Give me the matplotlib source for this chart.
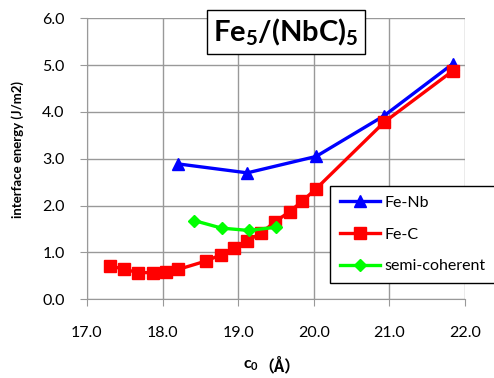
import matplotlib
matplotlib.use('Agg')
import matplotlib.pyplot as plt

plt.rcParams['font.family'] = ['Lato', 'Noto Sans CJK JP', 'DejaVu Sans']
plt.rcParams['mathtext.default'] = 'regular'

# data
feNbX = [18.21, 19.12, 20.03, 20.93, 21.84]
feNbY = [2.89, 2.70, 3.05, 3.92, 5.03]

feCX = [17.30, 17.49, 17.68, 17.87, 18.05, 18.21, 18.58, 18.77, 18.94,
        19.12, 19.30, 19.49, 19.68, 19.85, 20.03, 20.93, 21.84]
feCY = [0.72, 0.64, 0.57, 0.57, 0.59, 0.64, 0.82, 0.95, 1.09,
        1.25, 1.41, 1.66, 1.87, 2.10, 2.36, 3.78, 4.88]

semiX = [18.42, 18.78, 19.14, 19.50]
semiY = [1.68, 1.52, 1.47, 1.54]

xTicks = [17.0, 18.0, 19.0, 20.0, 21.0, 22.0]
yTicks = [0.0, 1.0, 2.0, 3.0, 4.0, 5.0, 6.0]

fig = plt.figure(figsize=(4.94, 3.78), dpi=100)
ax = fig.add_axes([87 / 494, 1 - 299.3 / 378, 378 / 494, 281 / 378])

ax.plot(feNbX, feNbY, color='#0000FF', lw=2.4, marker='^', ms=9, label='Fe-Nb')
ax.plot(feCX, feCY, color='#FF0000', lw=2.4, marker='s', ms=9, label='Fe-C')
ax.plot(semiX, semiY, color='#00FF00', lw=2.4, marker='D', ms=6.5, label='semi-coherent')

ax.set_xlim(17, 22)
ax.set_ylim(0, 6)
ax.set_xticks(xTicks)
ax.set_yticks(yTicks)
ax.set_xticklabels([f'{v:.1f}' for v in xTicks], fontsize=11.5)
ax.set_yticklabels([f'{v:.1f}' for v in yTicks], fontsize=11.5)
ax.grid(True, color='#999999', lw=1)
ax.set_axisbelow(True)
for s in ['top', 'right']:
    ax.spines[s].set_visible(False)
for s in ['left', 'bottom']:
    ax.spines[s].set_color('#999999')
ax.tick_params(color='#999999', length=5, direction='out')
ax.tick_params(axis='x', pad=14)
ax.tick_params(axis='y', pad=11)

# x label: mathtext part and CJK parentheses part as separate texts
xlY = 1 - 366 / 378
fig.text(259 / 494, xlY, 'c$_0$', fontsize=11.5, fontweight='bold', ha='right', va='center')
fig.text(258 / 494, xlY, '（Å）', fontsize=11.5, fontweight='bold', ha='left', va='center',
         family=['Noto Sans CJK JP', 'DejaVu Sans'])

fig.text(18 / 494, 1 - 150 / 378, 'interface energy (J/m2)', fontsize=9.5, fontweight='bold',
         rotation=90, ha='center', va='center')

fig.text(286 / 494, 1 - 32 / 378, 'Fe$_5$/(NbC)$_5$', fontsize=21, fontweight='bold',
         ha='center', va='center',
         bbox=dict(boxstyle='square,pad=0.22', fc='white', ec='black', lw=1))

leg = fig.legend(loc='upper left', bbox_to_anchor=(330 / 494, 1 - 186 / 378),
                 borderaxespad=0, fontsize=11.5, handlelength=2.5, labelspacing=1.1,
                 borderpad=0.6, handletextpad=0.3, fancybox=False, framealpha=1,
                 edgecolor='black')
leg.get_frame().set_linewidth(1)

fig.savefig('out.png', dpi=100)
